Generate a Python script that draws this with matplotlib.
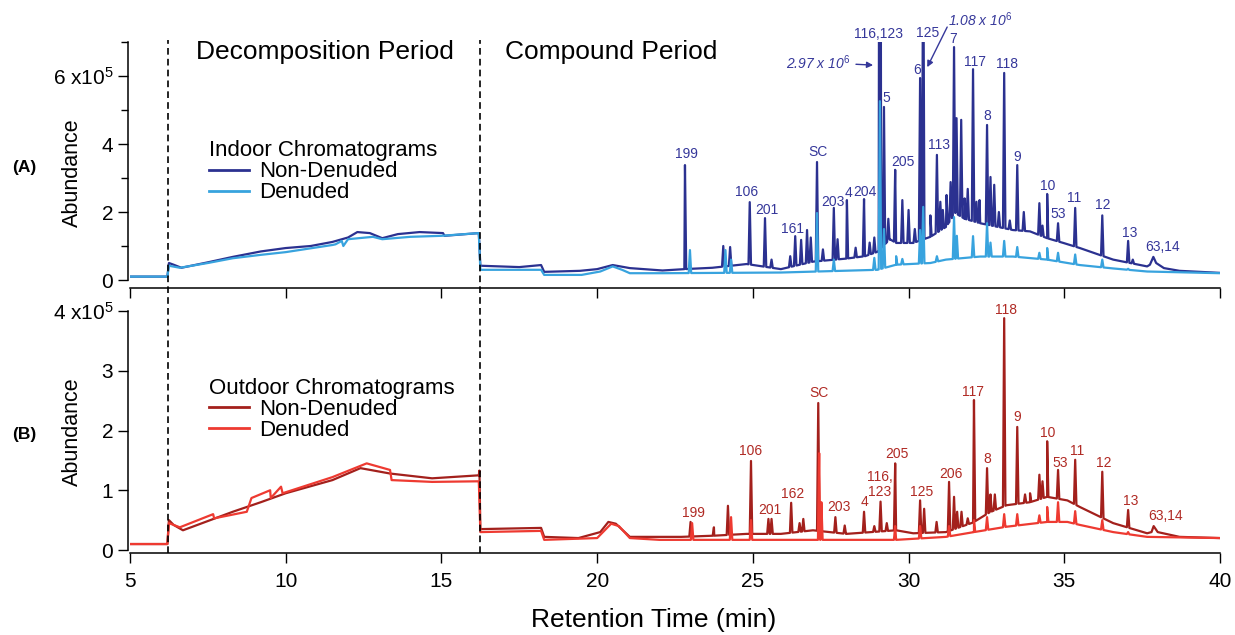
import numpy as np
import matplotlib
matplotlib.use('Agg')
import matplotlib.pyplot as plt
from matplotlib import transforms
from matplotlib.lines import Line2D

plt.rcParams['font.family'] = ['Liberation Sans', 'DejaVu Sans']
plt.rcParams['mathtext.fontset'] = 'custom'
plt.rcParams['mathtext.rm'] = 'Liberation Sans'
plt.rcParams['mathtext.it'] = 'Liberation Sans:italic'

# all abundances in units of 1e5, times in minutes
period_bounds = [6.22, 16.24]

# ---- (A) indoor ----
in_nd_base_t = [5.0, 6.2, 6.25, 6.4, 6.65, 7.5, 8.3, 9.2, 10.0, 10.8, 11.5, 12.0, 12.3, 12.7, 13.1,
                13.6, 14.3, 15.05, 15.1, 16.2, 16.25, 17.5, 18.2, 18.3, 19.45, 20.0, 20.5, 21.05,
                22.1, 22.8, 23.7, 24.8, 25.9, 26.93, 28.0, 28.6, 29.0, 29.4, 29.6, 30.15, 30.7,
                31.2, 31.5, 31.8, 32.3, 33.35, 33.9, 34.45, 34.97, 35.5, 36.57, 37.66, 37.75,
                37.86, 37.95, 38.2, 38.7, 40.0]
in_nd_base_v = [0.1, 0.1, 0.5, 0.45, 0.36, 0.52, 0.68, 0.84, 0.94, 1.0, 1.12, 1.25, 1.41, 1.38, 1.23,
                1.35, 1.41, 1.38, 1.3, 1.38, 0.42, 0.38, 0.44, 0.24, 0.27, 0.32, 0.44, 0.35,
                0.28, 0.32, 0.36, 0.47, 0.32, 0.54, 0.63, 0.7, 0.83, 1.2, 1.09, 1.09, 1.27,
                1.56, 1.97, 1.8, 1.67, 1.47, 1.43, 1.23, 1.09, 0.94, 0.6, 0.4, 0.45,
                0.68, 0.5, 0.35, 0.27, 0.21]
in_nd_peak_t = [22.82, 24.05, 24.27, 24.9, 25.39, 25.6, 26.2, 26.36, 26.55, 26.74, 26.86, 27.06,
                27.25, 27.6, 27.72, 28.02, 28.3, 28.57, 28.75, 28.9, 29.08, 29.21, 29.35, 29.57,
                29.8, 30.0, 30.2, 30.37, 30.47, 30.7, 30.91, 31.02, 31.1, 31.22, 31.35, 31.46,
                31.54, 31.69, 31.8, 31.9, 32.07, 32.18, 32.28, 32.52, 32.63, 32.75, 32.9, 33.07,
                33.25, 33.49, 33.7, 34.2, 34.3, 34.45, 34.8, 35.35, 36.22, 37.05, 37.2]
in_nd_peak_v = [3.38, 1.0, 0.97, 2.29, 1.82, 0.6, 0.7, 1.29, 1.18, 1.47, 1.25, 3.47,
                0.9, 2.12, 1.2, 2.35, 0.95, 2.38, 1.1, 1.25, 29.7, 5.09, 1.8, 3.24,
                2.35, 2.06, 1.5, 5.94, 10.8, 1.9, 3.68, 2.3, 2.06, 2.5, 2.88, 6.85,
                4.76, 4.71, 2.4, 2.68, 6.2, 2.3, 2.35, 4.56, 3.03, 2.8, 2.0, 6.09,
                1.75, 3.38, 2.0, 2.26, 1.6, 2.53, 1.67, 2.12, 1.9, 1.15, 0.6]

in_d_base_t = [5.0, 6.2, 6.25, 6.6, 7.5, 8.3, 9.2, 10.0, 11.5, 11.6, 11.8, 11.85, 12.0, 12.8, 13.1,
               14.0, 15.0, 16.2, 16.25, 18.2, 18.3, 19.5, 20.1, 20.5, 20.8, 21.05, 22.1, 25.9,
               29.0, 29.6, 30.7, 31.2, 32.3, 33.35, 34.45, 35.5, 36.57, 37.66, 40.0]
in_d_base_v = [0.1, 0.1, 0.42, 0.36, 0.5, 0.64, 0.74, 0.82, 1.03, 1.05, 1.15, 1.0, 1.2, 1.27, 1.2,
               1.27, 1.3, 1.38, 0.3, 0.3, 0.15, 0.15, 0.25, 0.4, 0.3, 0.2, 0.2, 0.22,
               0.3, 0.45, 0.5, 0.6, 0.69, 0.69, 0.6, 0.44, 0.34, 0.25, 0.2]
in_d_peak_t = [22.98, 24.12, 24.3, 27.06, 27.6, 28.9, 29.08, 29.21, 29.6, 29.8, 30.37, 30.47,
               30.91, 31.46, 31.55, 32.07, 32.52, 32.63, 33.07, 33.49, 34.2, 34.45, 34.8, 35.35,
               36.22, 37.05]
in_d_peak_v = [0.88, 0.88, 0.6, 1.97, 0.6, 0.65, 5.26, 1.5, 0.7, 0.62, 1.47, 2.15,
               0.7, 1.85, 1.3, 1.29, 1.67, 1.1, 1.15, 0.97, 0.8, 0.94, 0.8, 0.75,
               0.6, 0.33]

in_labels = ['199', '106', '201', '161', 'SC', '203', '4', '204', '116,123', '5', '205', '6',
             '125', '113', '7', '117', '8', '118', '9', '10', '53', '11', '12', '13', '63,14']
in_label_t = [22.86, 24.8, 25.45, 26.26, 27.1, 27.58, 28.06, 28.6, 29.05, 29.3, 29.82, 30.27,
              30.6, 30.98, 31.43, 32.13, 32.52, 33.16, 33.49, 34.48, 34.8, 35.31, 36.25, 37.11, 38.17]
in_label_v = [3.7, 2.6, 2.06, 1.5, 3.76, 2.3, 2.56, 2.6, 7.24, 5.35, 3.47, 6.18,
              7.26, 3.97, 7.08, 6.41, 4.82, 6.35, 3.62, 2.76, 1.94, 2.41, 2.2, 1.38, 0.97]

# ---- (B) outdoor ----
out_nd_base_t = [5.0, 6.2, 6.25, 6.4, 6.7, 8.3, 9.2, 10.0, 11.5, 12.4, 13.35, 14.7, 16.2, 16.22,
                 16.25, 18.2, 18.3, 19.4, 20.1, 20.36, 20.6, 21.05, 22.7, 23.76, 24.8, 25.9,
                 26.93, 28.0, 29.6, 30.15, 31.2, 32.07, 32.6, 33.15, 33.9, 34.45, 35.1, 35.5,
                 36.57, 37.66, 37.8, 37.87, 38.0, 38.7, 40.0]
out_nd_base_v = [0.1, 0.1, 0.5, 0.42, 0.33, 0.64, 0.8, 0.95, 1.17, 1.37, 1.28, 1.2, 1.25, 1.33,
                 0.35, 0.37, 0.22, 0.2, 0.3, 0.47, 0.44, 0.22, 0.22, 0.24, 0.27, 0.27,
                 0.33, 0.27, 0.33, 0.28, 0.3, 0.46, 0.63, 0.75, 0.8, 0.89, 0.83, 0.72,
                 0.45, 0.28, 0.3, 0.4, 0.3, 0.22, 0.2]
out_nd_peak_t = [23.0, 23.75, 24.2, 24.94, 25.5, 25.6, 26.23, 26.5, 26.62, 27.1, 27.65, 27.95,
                 28.57, 28.9, 29.1, 29.3, 29.57, 30.37, 30.5, 30.9, 31.3, 31.46, 31.56, 31.7,
                 31.9, 32.1, 32.52, 32.63, 32.77, 33.07, 33.49, 33.74, 33.9, 34.2, 34.3, 34.45,
                 34.8, 35.35, 36.22, 37.05, 37.2]
out_nd_peak_v = [0.47, 0.38, 0.74, 1.49, 0.52, 0.52, 0.79, 0.45, 0.52, 2.46, 0.55, 0.41,
                 0.64, 0.4, 0.81, 0.45, 1.45, 0.83, 0.69, 0.47, 1.14, 0.89, 0.64, 0.64,
                 0.53, 2.51, 1.37, 0.93, 0.93, 3.88, 2.06, 0.93, 0.95, 1.26, 1.15, 1.82,
                 1.34, 1.51, 1.31, 0.67, 0.35]

out_d_base_t = [5.0, 6.2, 6.25, 6.6, 7.67, 7.7, 8.75, 8.9, 9.5, 9.52, 9.85, 9.9, 11.5, 12.6,
                13.35, 13.4, 14.7, 16.2, 16.25, 18.2, 18.3, 20.0, 20.45, 20.7, 21.05, 22.0,
                29.6, 31.2, 32.1, 33.15, 34.45, 35.1, 35.5, 36.57, 37.66, 40.0]
out_d_base_v = [0.1, 0.1, 0.45, 0.38, 0.6, 0.53, 0.64, 0.87, 1.0, 0.87, 1.06, 0.95, 1.22, 1.45,
                1.34, 1.17, 1.14, 1.15, 0.3, 0.32, 0.17, 0.2, 0.44, 0.4, 0.2, 0.17,
                0.17, 0.22, 0.3, 0.39, 0.47, 0.47, 0.42, 0.3, 0.22, 0.2]
out_d_peak_t = [23.05, 24.3, 24.94, 27.13, 27.2, 29.57, 30.37, 31.3, 32.1, 32.52, 33.07, 33.49,
                34.2, 34.45, 34.8, 35.35, 36.22, 37.05]
out_d_peak_v = [0.45, 0.55, 0.5, 1.62, 0.8, 0.4, 0.4, 0.4, 0.5, 0.55, 0.6, 0.6,
                0.58, 0.72, 0.8, 0.65, 0.5, 0.3]

out_labels = ['199', '106', '201', '162', 'SC', '203', '4', '116,\n123', '205', '125', '206',
              '117', '8', '118', '9', '10', '53', '11', '12', '13', '63,14']
out_label_t = [23.08, 24.94, 25.55, 26.29, 27.13, 27.77, 28.6, 29.08, 29.63, 30.43, 31.36,
               32.07, 32.52, 33.13, 33.49, 34.48, 34.87, 35.41, 36.28, 37.14, 38.24]
out_label_v = [0.62, 1.66, 0.67, 0.94, 2.63, 0.72, 0.8, 1.1, 1.61, 0.97, 1.27,
               2.65, 1.52, 4.02, 2.23, 1.96, 1.46, 1.66, 1.46, 0.82, 0.57]

IN_DARK, IN_LIGHT, IN_TEXT = '#2b3190', '#38a3de', '#35379a'
OUT_DARK, OUT_LIGHT, OUT_TEXT = '#a3201c', '#ee3a31', '#b02a24'


def build_trace(base_t, base_v, peak_t, peak_v, width=0.04):
    base_t = np.asarray(base_t, float)
    base_v = np.asarray(base_v, float)
    pt = np.asarray(peak_t, float)
    pv = np.asarray(peak_v, float)
    left = pt - width
    right = pt + width
    t = np.concatenate([base_t, left, pt, right])
    v = np.concatenate([base_v, np.interp(left, base_t, base_v), pv, np.interp(right, base_t, base_v)])
    order = np.argsort(t, kind='stable')
    return t[order], v[order]


fig = plt.figure(figsize=(12.35, 6.35), dpi=100)
W, H = 1235, 635
ax1 = fig.add_axes([130 / W, 347 / H, 1090 / W, 246 / H])
ax2 = fig.add_axes([130 / W, 82 / H, 1090 / W, 242 / H])

for ax in (ax1, ax2):
    ax.set_xlim(5, 40)
    ax.spines['top'].set_visible(False)
    ax.spines['right'].set_visible(False)
    ax.spines['left'].set_position(('outward', 1.5))
    ax.spines['bottom'].set_bounds(5, 40)
    for s in ('left', 'bottom'):
        ax.spines[s].set_linewidth(1.1)
    ax.set_xticks([5, 10, 15, 20, 25, 30, 35, 40])
    ax.tick_params(axis='both', which='major', direction='out', length=7, width=1.0, labelsize=15)
    ax.tick_params(axis='y', which='both', pad=3.5)
    ax.tick_params(axis='x', pad=7)
    ax.tick_params(axis='y', which='minor', direction='out', length=5, width=1.0)

ax1.set_ylim(-0.235, 7)
ax1.spines['left'].set_bounds(0, 7)
ax1.set_yticks([0, 2, 4, 6])
ax1.set_yticklabels(['0', '2', '4', '6 x10$^5$'])
ax1.set_yticks([1, 3, 5, 7], minor=True)
ax1.tick_params(axis='x', labelbottom=False)

ax2.set_ylim(-0.05, 4)
ax2.spines['left'].set_bounds(0, 4)
ax2.set_yticks([0, 1, 2, 3, 4])
ax2.set_yticklabels(['0', '1', '2', '3', '4 x10$^5$'])

LW = 1.6
t, v = build_trace(in_nd_base_t, in_nd_base_v, in_nd_peak_t, in_nd_peak_v)
h1, = ax1.plot(t, v, color=IN_DARK, lw=LW, label='Non-Denuded')
t, v = build_trace(in_d_base_t, in_d_base_v, in_d_peak_t, in_d_peak_v)
h2, = ax1.plot(t, v, color=IN_LIGHT, lw=LW, label='Denuded')
t, v = build_trace(out_nd_base_t, out_nd_base_v, out_nd_peak_t, out_nd_peak_v)
h3, = ax2.plot(t, v, color=OUT_DARK, lw=LW, label='Non-Denuded')
t, v = build_trace(out_d_base_t, out_d_base_v, out_d_peak_t, out_d_peak_v)
h4, = ax2.plot(t, v, color=OUT_LIGHT, lw=LW, label='Denuded')

for lab, x, y in zip(in_labels, in_label_t, in_label_v):
    ax1.text(x, y, lab, color=IN_TEXT, fontsize=10, ha='center', va='center', clip_on=False)
for lab, x, y in zip(out_labels, out_label_t, out_label_v):
    ax2.text(x, y, lab, color=OUT_TEXT, fontsize=10, ha='center', va='center',
             linespacing=1.1, clip_on=False)

ax1.annotate('2.97 x 10$^{\\mathit{6}}$', xy=(28.86, 6.32), xytext=(27.1, 6.4),
             color=IN_TEXT, fontsize=10, fontstyle='italic', ha='center', va='center',
             arrowprops=dict(arrowstyle='-|>', color=IN_TEXT, lw=1.0, mutation_scale=9,
                             shrinkA=2, shrinkB=0))
ax1.text(32.3, 7.65, '1.08 x 10$^{\\mathit{6}}$', color=IN_TEXT, fontsize=10,
         fontstyle='italic', ha='center', va='center', clip_on=False)
ax1.annotate('', xy=(30.6, 6.26), xytext=(31.24, 7.44), annotation_clip=False,
             arrowprops=dict(arrowstyle='-|>', color=IN_TEXT, lw=1.0, mutation_scale=9,
                             shrinkA=0, shrinkB=0))

ax1.text(11.26, 6.7, 'Decomposition Period', fontsize=19, ha='center', va='center')
ax1.text(20.45, 6.7, 'Compound Period', fontsize=19, ha='center', va='center')

leg1 = ax1.legend(handles=[h1, h2], title='Indoor Chromatograms', loc='upper left',
                  bbox_to_anchor=(0.0725, 0.6), frameon=False, fontsize=16, title_fontsize=16,
                  handlelength=1.8, handletextpad=0.45, labelspacing=0.0, borderpad=0,
                  borderaxespad=0, alignment='left')
leg2 = ax2.legend(handles=[h3, h4], title='Outdoor Chromatograms', loc='upper left',
                  bbox_to_anchor=(0.0725, 0.725), frameon=False, fontsize=16, title_fontsize=16,
                  handlelength=1.8, handletextpad=0.45, labelspacing=0.0, borderpad=0,
                  borderaxespad=0, alignment='left')
for leg in (leg1, leg2):
    for ln in leg.get_lines():
        ln.set_linewidth(2.0)

# dashed period boundaries through both panels
trans = transforms.blended_transform_factory(ax2.transData, fig.transFigure)
for xb in period_bounds:
    fig.add_artist(Line2D([xb, xb], [(H - 553) / H, (H - 40) / H], transform=trans,
                          color='black', lw=1.2, linestyle=(0, (4, 2.5))))

fig.text(72 / W, 1 - 173 / H, 'Abundance', rotation=90, fontsize=15.5, ha='center', va='center')
fig.text(72 / W, 1 - 432 / H, 'Abundance', rotation=90, fontsize=15.5, ha='center', va='center')
fig.text(24 / W, 1 - 167 / H, '(A)', fontsize=12.5, fontweight='bold', ha='center', va='center')
fig.text(24 / W, 1 - 434 / H, '(B)', fontsize=12.5, fontweight='bold', ha='center', va='center')
fig.text(654 / W, 1 - 620 / H, 'Retention Time (min)', fontsize=19, ha='center', va='center')

fig.savefig('out.png', dpi=100)
